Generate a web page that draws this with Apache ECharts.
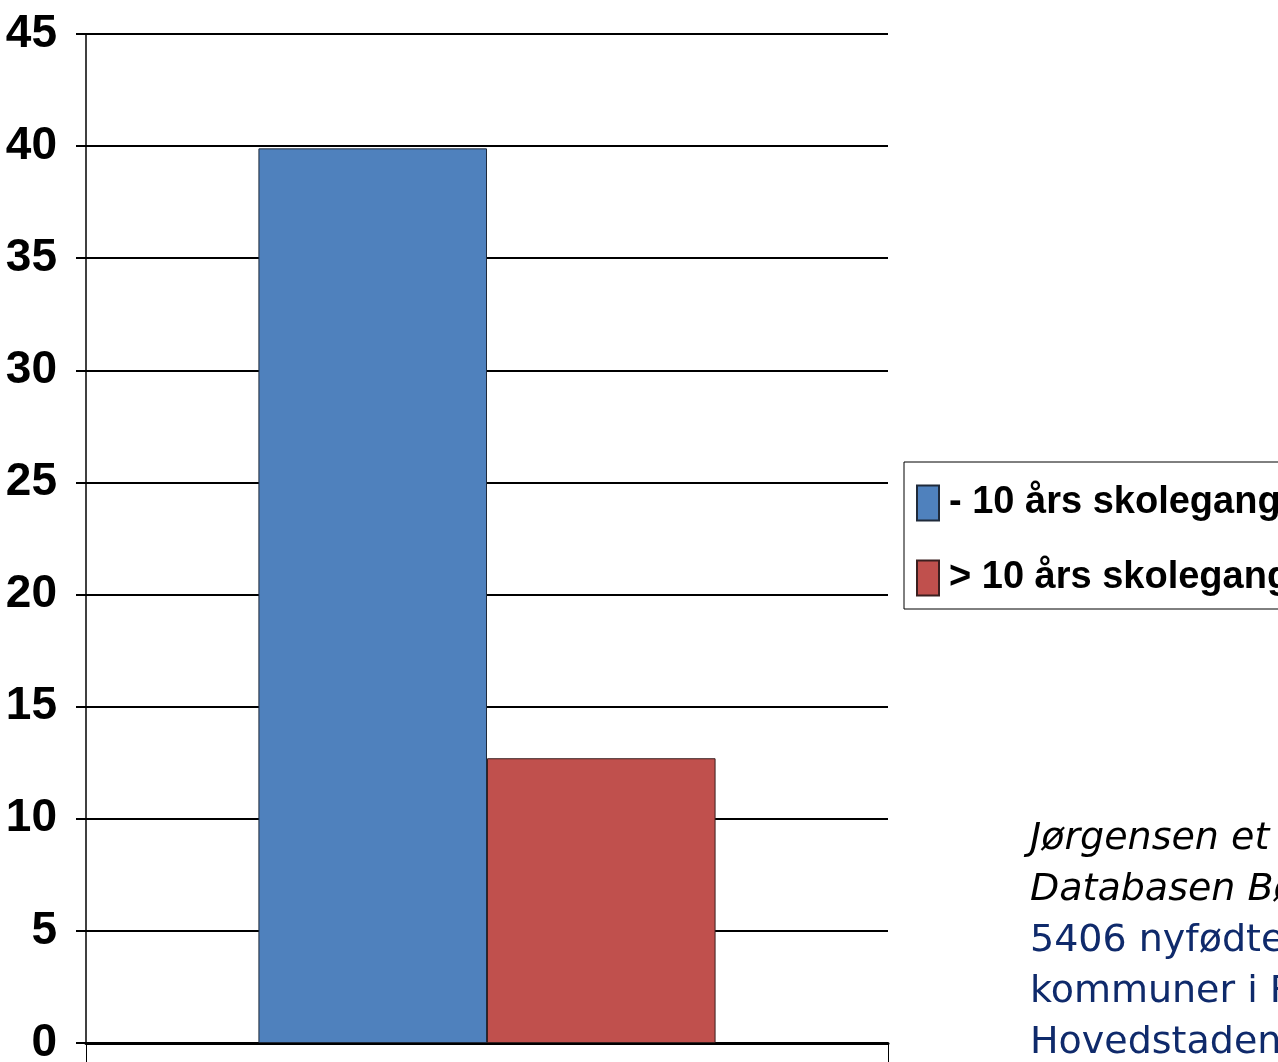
<!DOCTYPE html>
<html>
<head>
<meta charset="utf-8">
<script src="https://cdn.jsdelivr.net/npm/echarts@6/dist/echarts.min.js"></script>
<style>
  html, body { margin: 0; padding: 0; background: #fff; }
  #chart { width: 1278px; height: 1062px; }
</style>
</head>
<body>
<div id="chart"></div>
<script>
// data
const categories = [''];
const lowSchooling = [39.9];   // - 10 års skolegang
const highSchooling = [12.7];  // > 10 års skolegang
const seriesNames = ['- 10 års skolegang', '> 10 års skolegang'];
const sourceLines = ['Jørgensen et al.', 'Databasen Børn', '5406 nyfødte i', 'kommuner i Region', 'Hovedstaden'];

// the original uses Arial Narrow Bold; Liberation Sans Bold is the closest we have
const boldFont = '"Liberation Sans Narrow", "Liberation Sans", Arial, sans-serif';

const chart = echarts.init(document.getElementById('chart'));

// kilde-tekst nederst til højre
const sourceText = sourceLines.map(function (line, i) {
  return {
    type: 'text',
    left: 1030,
    top: 820 + i * 51,
    style: {
      text: line,
      font: (i < 2 ? 'italic ' : '') + '38px "DejaVu Sans", Verdana, sans-serif',
      fill: i < 2 ? '#000000' : '#0F2A6B'
    }
  };
});

const option = {
  animation: false,
  backgroundColor: '#ffffff',
  grid: { left: 86, right: 390, top: 34, bottom: 19, outerBoundsMode: 'none' },
  legend: {
    orient: 'vertical',
    left: 904,
    top: 462,
    padding: [22, 20, 12, 12],
    borderColor: '#000',
    borderWidth: 1,
    itemWidth: 22,
    itemHeight: 35,
    itemGap: 37,
    icon: 'rect',
    textStyle: {
      fontFamily: boldFont,
      fontWeight: 'bold',
      fontSize: 38,
      color: '#000',
      lineHeight: 35,
      padding: [0, 0, 0, 5]
    },
    data: seriesNames
  },
  xAxis: {
    type: 'category',
    data: categories,
    axisLine: { lineStyle: { color: '#000', width: 3 } },
    axisTick: { show: true, length: 20, lineStyle: { color: '#000', width: 1 } },
    axisLabel: { show: false }
  },
  yAxis: {
    type: 'value',
    min: 0,
    max: 45,
    interval: 5,
    axisLine: { show: true, lineStyle: { color: '#000', width: 1.5 } },
    axisTick: { show: true, length: 10, lineStyle: { color: '#000', width: 2 } },
    splitLine: { lineStyle: { color: '#000', width: 2 } },
    axisLabel: {
      margin: 29,
      fontFamily: boldFont,
      fontWeight: 'bold',
      fontSize: 46,
      color: '#000',
      padding: [10, 0, 0, 0]
    }
  },
  series: [
    {
      name: seriesNames[0],
      type: 'bar',
      data: lowSchooling,
      barGap: '0%',
      barCategoryGap: '43%',
      itemStyle: { color: '#4F81BD', borderColor: '#1f2a3a', borderWidth: 1 }
    },
    {
      name: seriesNames[1],
      type: 'bar',
      data: highSchooling,
      itemStyle: { color: '#C0504D', borderColor: '#3a1f1f', borderWidth: 1 }
    }
  ],
  graphic: sourceText
};

chart.setOption(option);
</script>
</body>
</html>
